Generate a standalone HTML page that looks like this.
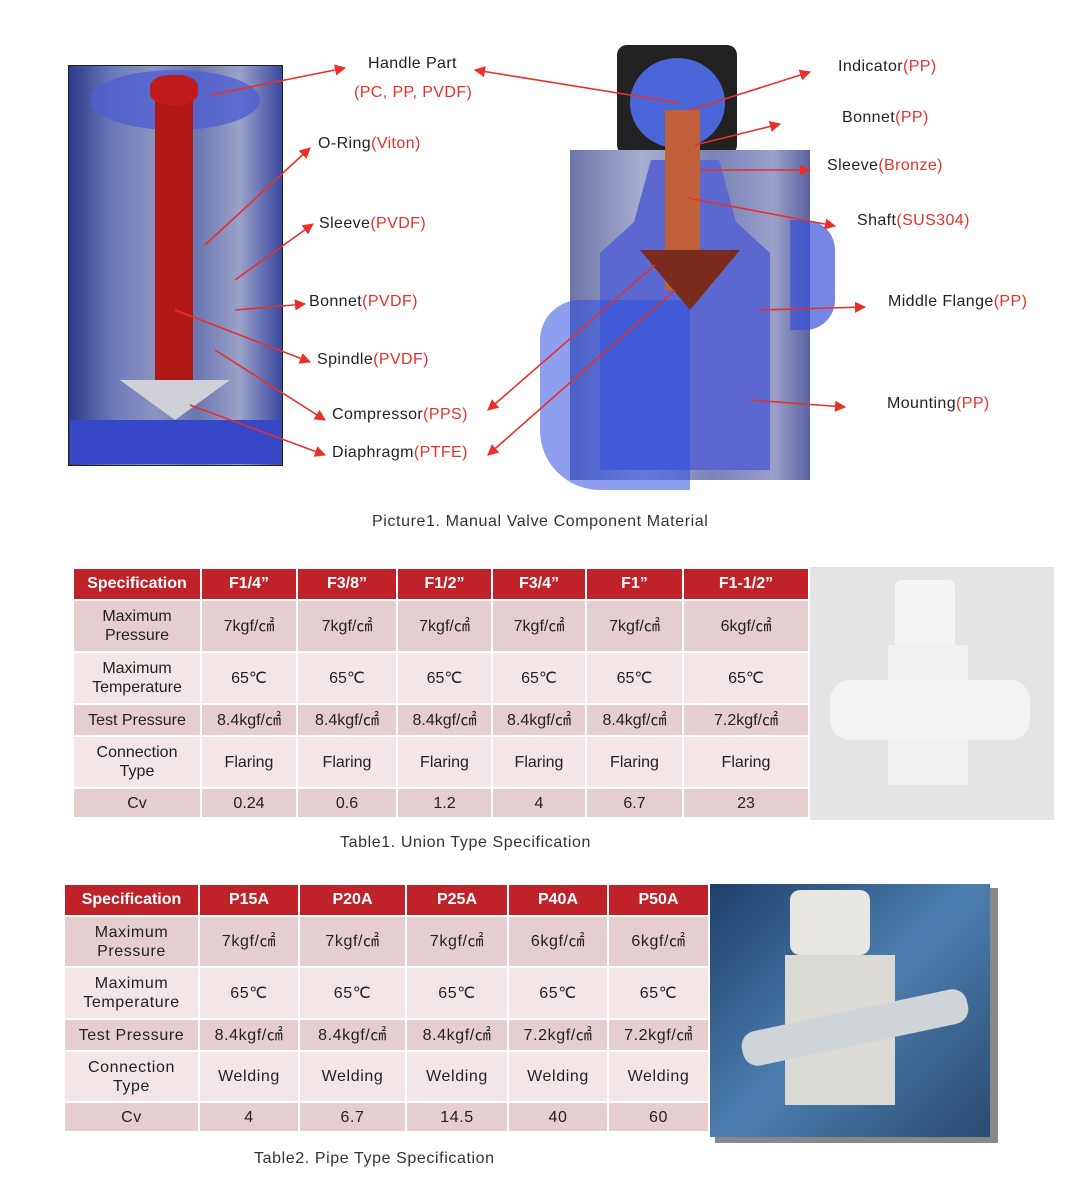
<!DOCTYPE html>
<html><head><meta charset="utf-8"><style>
body{margin:0;width:1067px;height:1200px;background:#fff;position:relative;font-family:"Liberation Sans",sans-serif;overflow:hidden}
.l{position:absolute;font-size:16px;letter-spacing:0.4px;color:#222;white-space:nowrap}
.l span{color:#e8302a}
table{position:absolute;border-collapse:separate;border-spacing:2px;font-size:16px;text-align:center;color:#222}
th{background:#c0222a;color:#fff;font-weight:bold;font-size:16px;height:30px;padding:0;letter-spacing:0}
td{padding:0;line-height:19px}
tr.a td{background:#e6cdd0}
tr.b td{background:#f3e6e7}
.cap{position:absolute;font-size:16px;letter-spacing:0.6px;color:#333}
</style></head><body>
<!-- left image -->
<div style="position:absolute;left:68px;top:65px;width:213px;height:399px;border:1px solid #222;background:linear-gradient(90deg,#2c3a8c,#6a78b8 20%,#8a94c0 40%,#6b76b0 60%,#9aa2c8 80%,#3a48a0)"></div>
<div style="position:absolute;left:90px;top:70px;width:170px;height:60px;border-radius:50%;background:#4e5fd0;opacity:.8"></div>
<div style="position:absolute;left:155px;top:85px;width:38px;height:300px;background:#b01818"></div>
<div style="position:absolute;left:150px;top:75px;width:48px;height:30px;border-radius:40%;background:#c01a1a"></div>
<div style="position:absolute;left:120px;top:380px;width:110px;height:40px;background:#d0d0d8;clip-path:polygon(0 0,100% 0,50% 100%)"></div>
<div style="position:absolute;left:70px;top:420px;width:210px;height:44px;background:#3648c8"></div>
<!-- right valve drawing -->
<div style="position:absolute;left:617px;top:45px;width:120px;height:110px;background:#222;border-radius:10px"></div>
<div style="position:absolute;left:630px;top:58px;width:95px;height:90px;border-radius:50%;background:#4a66d8"></div>
<div style="position:absolute;left:570px;top:150px;width:240px;height:330px;background:linear-gradient(90deg,#6d74a8,#a8aed0 30%,#7a82b8 60%,#9aa0c8 85%,#5b63a0)"></div>
<div style="position:absolute;left:600px;top:160px;width:170px;height:310px;background:#5a68d0;clip-path:polygon(30% 0,70% 0,80% 20%,100% 30%,100% 100%,0 100%,0 30%,20% 20%)"></div>
<div style="position:absolute;left:540px;top:300px;width:150px;height:190px;background:#3050e0;opacity:.55;border-radius:40px 0 0 60px"></div>
<div style="position:absolute;left:790px;top:220px;width:45px;height:110px;background:#3a52d8;opacity:.7;border-radius:0 30px 30px 0"></div>
<div style="position:absolute;left:665px;top:110px;width:35px;height:180px;background:#c0603a"></div>
<div style="position:absolute;left:640px;top:250px;width:100px;height:60px;background:#7a2b1e;clip-path:polygon(0 0,100% 0,50% 100%)"></div>
<svg style="position:absolute;left:0;top:0" width="1067" height="560">
<defs><marker id="m" viewBox="0 0 10 10" refX="9" refY="5" markerWidth="7" markerHeight="7" orient="auto"><path d="M0,0L10,5L0,10z" fill="#e8302a"/></marker></defs>
<g stroke="#e8302a" stroke-width="1.6" fill="none" marker-end="url(#m)">
<line x1="210" y1="95" x2="345" y2="68"/>
<line x1="205" y1="245" x2="310" y2="148"/>
<line x1="235" y1="280" x2="313" y2="224"/>
<line x1="235" y1="310" x2="305" y2="304"/>
<line x1="175" y1="310" x2="310" y2="362"/>
<line x1="215" y1="350" x2="325" y2="420"/>
<line x1="190" y1="405" x2="325" y2="455"/>
<line x1="680" y1="103" x2="475" y2="70"/>
<line x1="690" y1="110" x2="810" y2="72"/>
<line x1="695" y1="145" x2="780" y2="124"/>
<line x1="700" y1="170" x2="810" y2="170"/>
<line x1="688" y1="198" x2="835" y2="226"/>
<line x1="760" y1="310" x2="865" y2="307"/>
<line x1="750" y1="400" x2="845" y2="407"/>
<line x1="655" y1="265" x2="488" y2="410"/>
<line x1="675" y1="290" x2="488" y2="455"/>
</g></svg>
<div class="l" style="left:368px;top:55px">Handle Part</div>
<div class="l" style="left:354px;top:84px"><span>(PC, PP, PVDF)</span></div>
<div class="l" style="left:318px;top:135px">O-Ring<span>(Viton)</span></div>
<div class="l" style="left:319px;top:215px">Sleeve<span>(PVDF)</span></div>
<div class="l" style="left:309px;top:293px">Bonnet<span>(PVDF)</span></div>
<div class="l" style="left:317px;top:351px">Spindle<span>(PVDF)</span></div>
<div class="l" style="left:332px;top:406px">Compressor<span>(PPS)</span></div>
<div class="l" style="left:332px;top:444px">Diaphragm<span>(PTFE)</span></div>
<div class="l" style="left:838px;top:58px">Indicator<span>(PP)</span></div>
<div class="l" style="left:842px;top:109px">Bonnet<span>(PP)</span></div>
<div class="l" style="left:827px;top:157px">Sleeve<span>(Bronze)</span></div>
<div class="l" style="left:857px;top:212px">Shaft<span>(SUS304)</span></div>
<div class="l" style="left:888px;top:293px">Middle Flange<span>(PP)</span></div>
<div class="l" style="left:887px;top:395px">Mounting<span>(PP)</span></div>
<div class="cap" style="left:372px;top:513px">Picture1. Manual Valve Component Material</div>

<table style="left:72px;top:567px;width:738px">
<tr><th style="width:126px">Specification</th><th style="width:94px">F1/4”</th><th style="width:98px">F3/8”</th><th style="width:93px">F1/2”</th><th style="width:92px">F3/4”</th><th style="width:95px">F1”</th><th>F1-1/2”</th></tr>
<tr class="a" style="height:50px"><td>Maximum<br>Pressure</td><td>7kgf/㎠</td><td>7kgf/㎠</td><td>7kgf/㎠</td><td>7kgf/㎠</td><td>7kgf/㎠</td><td>6kgf/㎠</td></tr>
<tr class="b" style="height:50px"><td>Maximum<br>Temperature</td><td>65℃</td><td>65℃</td><td>65℃</td><td>65℃</td><td>65℃</td><td>65℃</td></tr>
<tr class="a" style="height:30px"><td>Test Pressure</td><td>8.4kgf/㎠</td><td>8.4kgf/㎠</td><td>8.4kgf/㎠</td><td>8.4kgf/㎠</td><td>8.4kgf/㎠</td><td>7.2kgf/㎠</td></tr>
<tr class="b" style="height:50px"><td>Connection<br>Type</td><td>Flaring</td><td>Flaring</td><td>Flaring</td><td>Flaring</td><td>Flaring</td><td>Flaring</td></tr>
<tr class="a" style="height:28px"><td>Cv</td><td>0.24</td><td>0.6</td><td>1.2</td><td>4</td><td>6.7</td><td>23</td></tr>
</table>
<div style="position:absolute;left:810px;top:567px;width:244px;height:253px;background:#e4e4e6"></div>
<div style="position:absolute;left:895px;top:580px;width:60px;height:70px;background:#f4f4f2;border-radius:6px"></div>
<div style="position:absolute;left:888px;top:645px;width:80px;height:140px;background:#f0f0ee"></div>
<div style="position:absolute;left:830px;top:680px;width:200px;height:60px;background:#f2f2f0;border-radius:20px"></div>
<div class="cap" style="left:340px;top:834px">Table1. Union Type Specification</div>

<table style="left:63px;top:883px;width:647px;letter-spacing:0.6px">
<tr><th style="width:133px">Specification</th><th style="width:98px">P15A</th><th style="width:105px">P20A</th><th style="width:100px">P25A</th><th style="width:98px">P40A</th><th>P50A</th></tr>
<tr class="a" style="height:49px"><td>Maximum<br>Pressure</td><td>7kgf/㎠</td><td>7kgf/㎠</td><td>7kgf/㎠</td><td>6kgf/㎠</td><td>6kgf/㎠</td></tr>
<tr class="b" style="height:50px"><td>Maximum<br>Temperature</td><td>65℃</td><td>65℃</td><td>65℃</td><td>65℃</td><td>65℃</td></tr>
<tr class="a" style="height:30px"><td>Test Pressure</td><td>8.4kgf/㎠</td><td>8.4kgf/㎠</td><td>8.4kgf/㎠</td><td>7.2kgf/㎠</td><td>7.2kgf/㎠</td></tr>
<tr class="b" style="height:49px"><td>Connection<br>Type</td><td>Welding</td><td>Welding</td><td>Welding</td><td>Welding</td><td>Welding</td></tr>
<tr class="a" style="height:28px"><td>Cv</td><td>4</td><td>6.7</td><td>14.5</td><td>40</td><td>60</td></tr>
</table>
<div style="position:absolute;left:715px;top:888px;width:283px;height:255px;background:#888"></div>
<div style="position:absolute;left:710px;top:884px;width:280px;height:253px;background:linear-gradient(135deg,#1f3f6a,#4d7fb0 50%,#2a4a70)"></div>
<div style="position:absolute;left:790px;top:890px;width:80px;height:65px;background:#e8e6e0;border-radius:10px"></div>
<div style="position:absolute;left:785px;top:955px;width:110px;height:150px;background:#dcdad4"></div>
<div style="position:absolute;left:740px;top:1010px;width:230px;height:35px;background:#cfd4d8;border-radius:15px;transform:rotate(-12deg)"></div>
<div class="cap" style="left:254px;top:1150px">Table2. Pipe Type Specification</div>
</body></html>
